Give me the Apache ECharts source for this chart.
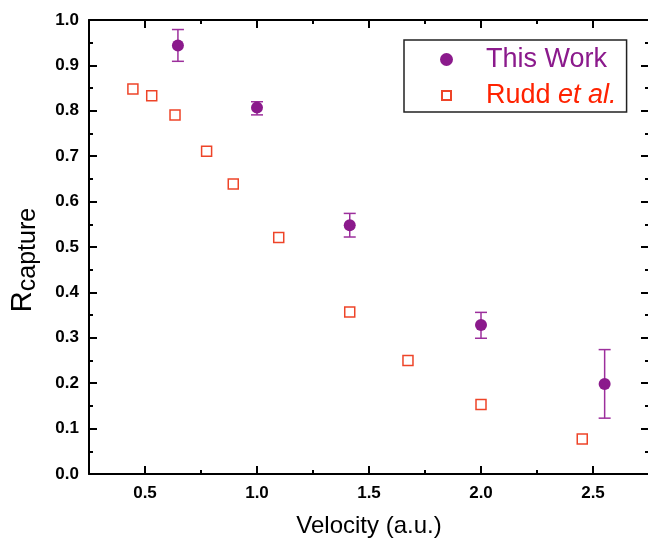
<!DOCTYPE html>
<html>
<head>
<meta charset="utf-8">
<script src="https://cdn.jsdelivr.net/npm/echarts@6/dist/echarts.min.js"></script>
<style>html,body{margin:0;padding:0;background:#fff}#c{width:648px;height:538px}</style>
</head>
<body>
<div id="c"></div>
<script>
// ---- data ----
const twX    = [0.647, 1.0, 1.414, 2.0, 2.552];
const twY    = [0.944, 0.807, 0.548, 0.328, 0.198];
const twLow  = [0.909, 0.791, 0.522, 0.299, 0.123];
const twHigh = [0.979, 0.820, 0.574, 0.356, 0.274];
const ruddX  = [0.446, 0.53, 0.634, 0.775, 0.894, 1.097, 1.414, 1.674, 2.0, 2.452];
const ruddY  = [0.848, 0.833, 0.791, 0.711, 0.639, 0.521, 0.357, 0.250, 0.153, 0.077];
const xTickCats = ['0.25', '0.5', '0.75', '1.0', '1.25', '1.5', '1.75', '2.0', '2.25', '2.5', '2.75'];
const seriesNames = ['This Work', 'Rudd et al.'];

const FONT = 'Liberation Sans, Arial, Helvetica, sans-serif';
const PURPLE = '#8B1A8C';
const PURPLE_ERR = '#9C2F9C';
const RED = '#EE4428';
const BLACK = '#000';

const chart = echarts.init(document.getElementById('c'), null, {renderer: 'canvas'});

const gridBox = {left: 89, top: 20, right: -1, bottom: 64, containLabel: false, outerBoundsMode: 'none'};
const lineSt = {color: BLACK, width: 2};
const isMajor = v => Math.abs(v * 2 - Math.round(v * 2)) < 1e-6;

function xVal(position, labels) {
  const a = {
    gridIndex: 0, type: 'value', position, min: 0.25, max: 2.75, interval: 0.25,
    axisLine: {show: true, onZero: false, lineStyle: lineSt},
    axisTick: {show: true, inside: true, length: 4, lineStyle: lineSt},
    axisLabel: {show: false},
    splitLine: {show: false}
  };
  if (labels) {
    a.axisLabel = {show: true, formatter: v => isMajor(v) ? v.toFixed(1) : '', margin: 11,
      fontSize: 17, fontWeight: 'bold', color: BLACK, fontFamily: FONT};
    a.name = 'Velocity (a.u.)';
    a.nameLocation = 'middle';
    a.nameGap = 40;
    a.nameMoveOverlap = false;
    a.nameTextStyle = {fontSize: 24, color: BLACK, fontFamily: FONT};
  }
  return a;
}
function xCat(position) {
  return {
    gridIndex: 1, type: 'category', position, data: xTickCats, boundaryGap: false,
    axisLine: {show: false},
    axisTick: {show: true, inside: true, length: 8, lineStyle: lineSt,
      interval: (i) => i % 2 === 1},
    axisLabel: {show: false},
    splitLine: {show: false}
  };
}
function yAx(position, labels) {
  const a = {
    gridIndex: 0, type: 'value', position, min: 0, max: 1, interval: 0.1,
    axisLine: {show: true, onZero: false, lineStyle: lineSt},
    axisTick: {show: true, inside: true, length: 8, lineStyle: lineSt},
    minorTick: {show: true, splitNumber: 2, length: 4, lineStyle: lineSt},
    axisLabel: {show: false},
    splitLine: {show: false},
    minorSplitLine: {show: false}
  };
  if (labels) {
    a.axisLabel = {show: true, formatter: v => v.toFixed(1), margin: 10,
      fontSize: 17, fontWeight: 'bold', color: BLACK, fontFamily: FONT};
    a.name = '{r|R}{s|capture}';
    a.nameLocation = 'middle';
    a.nameGap = 48;
    a.nameMoveOverlap = false;
    a.nameTextStyle = {color: BLACK, fontFamily: FONT, padding: [0, 26, 0, 0],
      rich: {
        r: {fontSize: 29, fontFamily: FONT, color: BLACK},
        s: {fontSize: 25, fontFamily: FONT, color: BLACK, padding: [12, 0, 0, 0]}
      }};
  }
  return a;
}

const option = {
  animation: false,
  backgroundColor: '#fff',
  grid: [Object.assign({}, gridBox), Object.assign({}, gridBox)],
  xAxis: [xVal('bottom', true), xVal('top', false), xCat('bottom'), xCat('top')],
  yAxis: [
    yAx('left', true),
    yAx('right', false),
    {gridIndex: 1, type: 'value', min: 0, max: 1, show: false}
  ],
  legend: {
    orient: 'vertical', left: 404, top: 40,
    padding: [6, 10, 3, 35], itemGap: 9,
    itemWidth: 13, itemHeight: 13,
    borderColor: '#222', borderWidth: 1.5,
    selectedMode: false,
    data: [
      {name: seriesNames[0], icon: 'circle'},
      {name: seriesNames[1], icon: 'path://M0,0 M13,13 M2,2 L11,2 L11,11 L2,11 Z'}
    ],
    formatter: n => n === seriesNames[0] ? '{p|This Work}' : '{r|Rudd }{ri|et al.}',
    textStyle: {fontSize: 27, fontFamily: FONT, padding: [0, 0, 0, 28],
      rich: {
        p: {fontSize: 27, fontFamily: FONT, color: PURPLE},
        r: {fontSize: 27, fontFamily: FONT, color: '#FF2200'},
        ri: {fontSize: 27, fontFamily: FONT, color: '#FF2200', fontStyle: 'italic'}
      }}
  },
  series: [
    {
      type: 'custom', name: 'err', xAxisIndex: 0, yAxisIndex: 0, z: 2,
      data: twX.map((x, i) => [x, twLow[i], twHigh[i]]),
      encode: {x: 0, y: [1, 2]},
      renderItem: (params, api) => {
        const x = api.value(0);
        const pLo = api.coord([x, api.value(1)]);
        const pHi = api.coord([x, api.value(2)]);
        const hw = 6;
        const st = {stroke: PURPLE_ERR, lineWidth: 1.5};
        return {type: 'group', children: [
          {type: 'line', shape: {x1: pLo[0], y1: pLo[1], x2: pHi[0], y2: pHi[1]}, style: st},
          {type: 'line', shape: {x1: pLo[0] - hw, y1: pLo[1], x2: pLo[0] + hw, y2: pLo[1]}, style: st},
          {type: 'line', shape: {x1: pHi[0] - hw, y1: pHi[1], x2: pHi[0] + hw, y2: pHi[1]}, style: st}
        ]};
      }
    },
    {
      type: 'scatter', name: seriesNames[0], xAxisIndex: 0, yAxisIndex: 0, z: 3,
      data: twX.map((x, i) => [x, twY[i]]),
      symbol: 'circle', symbolSize: 12,
      itemStyle: {color: PURPLE, opacity: 1}
    },
    {
      type: 'scatter', name: seriesNames[1], xAxisIndex: 0, yAxisIndex: 0, z: 3,
      data: ruddX.map((x, i) => [x, ruddY[i]]),
      symbol: 'rect', symbolSize: 10,
      itemStyle: {color: '#fff', borderColor: RED, borderWidth: 1.5, opacity: 1}
    }
  ]
};
chart.setOption(option);
</script>
</body>
</html>
